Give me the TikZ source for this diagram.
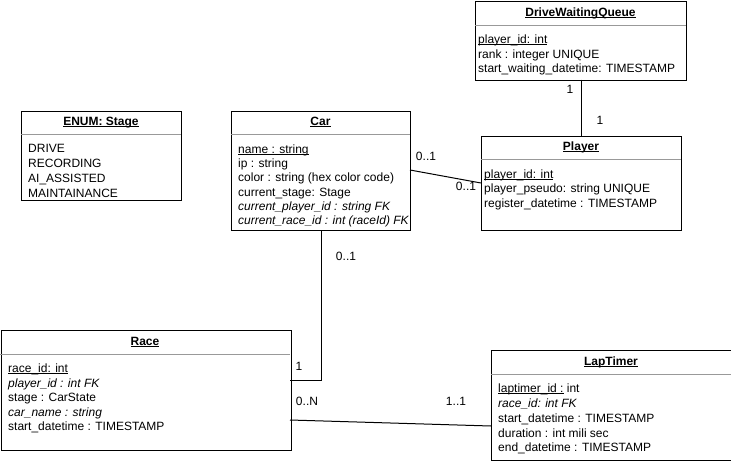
\documentclass[tikz,border=0pt]{standalone}
\usepackage{fontspec}
\setmainfont{Liberation Sans}
% underline set just below the baseline, as a thin rule
\newcommand{\ulabel}[1]{\setbox0\hbox{#1}\rlap{\rule[-1.6pt]{\wd0}{0.7pt}}\box0\relax}
\begin{document}
\begin{tikzpicture}[x=1pt,y=-1pt,
  entity/.style={draw=black,line width=1pt,fill=white,anchor=north west,inner sep=0pt},
  sep/.style={draw=black!40,line width=0.8pt},
  title/.style={font=\fontsize{12}{14}\selectfont\bfseries,inner sep=0pt,anchor=base,yshift=-4.5pt},
  attr/.style={font=\fontsize{12}{14}\selectfont,anchor=base west,inner sep=0pt,yshift=-4.5pt},
  mult/.style={font=\fontsize{12}{14}\selectfont,inner sep=0pt,anchor=base,yshift=-4.5pt},
  link/.style={draw=black,line width=1pt}]
\useasboundingbox (0,0) rectangle (731,461);

% DriveWaitingQueue
\node[entity,minimum width=211pt,minimum height=79pt] (dwq) at (475,0.5) {};
\draw[sep] (475,25) -- (686,25);
\node[title] (dwqt) at (580.5,12) {\ulabel{DriveWaitingQueue}};
\node[attr] (dwq1) at (478,39) {\ulabel{player\_id: int}};
\node[attr] (dwq2) at (478,54) {rank : integer UNIQUE};
\node[attr] (dwq3) at (478,68) {start\_waiting\_datetime: TIMESTAMP};

% ENUM: Stage
\node[entity,minimum width=160pt,minimum height=89pt] (stage) at (21,111) {};
\draw[sep] (21,134) -- (181,134);
\node[title] (staget) at (101,121) {\ulabel{ENUM: Stage}};
\node[attr] (st1) at (28,148) {DRIVE};
\node[attr] (st2) at (28,163) {RECORDING};
\node[attr] (st3) at (28,178) {AI\_ASSISTED};
\node[attr] (st4) at (28,193) {MAINTAINANCE};

% Car
\node[entity,minimum width=179pt,minimum height=119pt] (car) at (231,111) {};
\draw[sep] (231,134) -- (410,134);
\node[title] (cart) at (320.5,121) {\ulabel{Car}};
\node[attr] (c1) at (238,149) {\ulabel{name : string}};
\node[attr] (c2) at (238,163) {ip : string};
\node[attr] (c3) at (238,177) {color : string (hex color code)};
\node[attr] (c4) at (238,192) {current\_stage: Stage};
\node[attr] (c5) at (238,206) {\itshape current\_player\_id : string FK};
\node[attr] (c6) at (238,220) {\itshape current\_race\_id : int (raceId) FK};

% Player
\node[entity,minimum width=200pt,minimum height=94pt] (player) at (481,136) {};
\draw[sep] (481,159) -- (681,159);
\node[title] (playert) at (581,146) {\ulabel{Player}};
\node[attr] (p1) at (484,174) {\ulabel{player\_id: int}};
\node[attr] (p2) at (484,188) {player\_pseudo: string UNIQUE};
\node[attr] (p3) at (484,203) {register\_datetime : TIMESTAMP};

% Race
\node[entity,minimum width=290pt,minimum height=120pt] (race) at (0.5,330) {};
\draw[sep] (0,354) -- (290,354);
\node[title] (racet) at (145,341) {\ulabel{Race}};
\node[attr] (r1) at (8,368) {\ulabel{race\_id: int}};
\node[attr] (r2) at (8,383) {\itshape player\_id : int FK};
\node[attr] (r3) at (8,397) {stage : CarState};
\node[attr] (r4) at (8,412) {\itshape car\_name : string};
\node[attr] (r5) at (8,426) {start\_datetime : TIMESTAMP};

% LapTimer
\node[entity,minimum width=240pt,minimum height=110pt] (lap) at (491,350) {};
\draw[sep] (491,374) -- (731,374);
\node[title] (lapt) at (611,361) {\ulabel{LapTimer}};
\node[attr] (l1) at (498,388) {\ulabel{laptimer\_id :} int};
\node[attr] (l2) at (498,403) {\itshape race\_id: int FK};
\node[attr] (l3) at (498,418) {start\_datetime : TIMESTAMP};
\node[attr] (l4) at (498,433) {duration : int mili sec};
\node[attr] (l5) at (498,447) {end\_datetime : TIMESTAMP};

% connectors
\coordinate (q1) at (581,79.5);
\draw[link] (q1) -- (q1 |- player.north);
\node[mult] at (570,89) {1};
\node[mult] at (600,120) {1};

\coordinate (ce) at (410,170);
\coordinate (pe) at (481,183);
\draw[link] (ce) -- (pe);
\node[mult] at (426,156) {0..1};
\node[mult] at (466,186) {0..1};

\coordinate (cb) at (321,230);
\coordinate (rb) at (290,380);
\draw[link] (cb) |- (rb);
\node[mult] at (346,256) {0..1};
\node[mult] at (299,366) {1};

\coordinate (ra) at (290,420);
\coordinate (la) at (491,426);
\draw[link] (ra) -- (la);
\node[mult] at (307,401) {0..N};
\node[mult] at (456,401) {1..1};
\end{tikzpicture}
\end{document}
